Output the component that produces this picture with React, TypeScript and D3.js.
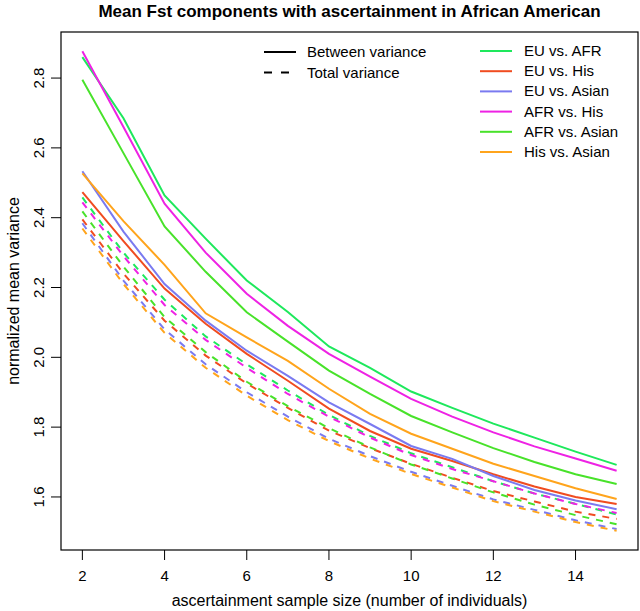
import React from "react";
import * as d3 from "d3";

const sampleSizes = [2, 3, 4, 5, 6, 7, 8, 9, 10, 11, 12, 13, 14, 15];

const seriesNames = ["EU vs. AFR", "EU vs. His", "EU vs. Asian", "AFR vs. His", "AFR vs. Asian", "His vs. Asian"];
const seriesColors = ["#1ee85c", "#f04c20", "#7a7af0", "#ee22e4", "#48e22a", "#ffa41c"];

// Between variance (solid)
const betweenEUAFR = [2.86, 2.685, 2.464, 2.34, 2.22, 2.13, 2.031, 1.97, 1.902, 1.855, 1.81, 1.77, 1.73, 1.692];
const betweenEUHis = [2.473, 2.333, 2.197, 2.096, 2.01, 1.933, 1.853, 1.789, 1.738, 1.703, 1.665, 1.63, 1.6, 1.58];
const betweenEUAsian = [2.533, 2.36, 2.21, 2.105, 2.019, 1.947, 1.871, 1.809, 1.746, 1.709, 1.66, 1.62, 1.59, 1.565];
const betweenAFRHis = [2.877, 2.66, 2.44, 2.3, 2.182, 2.09, 2.01, 1.945, 1.881, 1.83, 1.785, 1.745, 1.71, 1.675];
const betweenAFRAsian = [2.795, 2.585, 2.375, 2.245, 2.129, 2.045, 1.962, 1.895, 1.832, 1.785, 1.74, 1.7, 1.665, 1.637];
const betweenHisAsian = [2.527, 2.39, 2.265, 2.126, 2.057, 1.99, 1.91, 1.838, 1.781, 1.738, 1.695, 1.66, 1.625, 1.594];

// Total variance (dashed)
const totalEUAFR = [2.458, 2.3, 2.165, 2.06, 1.98, 1.905, 1.835, 1.775, 1.725, 1.685, 1.645, 1.61, 1.58, 1.55];
const totalEUHis = [2.395, 2.24, 2.105, 2.005, 1.925, 1.855, 1.79, 1.74, 1.695, 1.655, 1.617, 1.587, 1.558, 1.537];
const totalEUAsian = [2.384, 2.22, 2.08, 1.98, 1.9, 1.83, 1.767, 1.717, 1.672, 1.632, 1.593, 1.563, 1.533, 1.508];
const totalAFRHis = [2.444, 2.29, 2.15, 2.05, 1.97, 1.895, 1.83, 1.77, 1.72, 1.68, 1.645, 1.61, 1.58, 1.554];
const totalAFRAsian = [2.418, 2.26, 2.115, 2.015, 1.93, 1.86, 1.797, 1.742, 1.693, 1.653, 1.613, 1.578, 1.548, 1.522];
const totalHisAsian = [2.369, 2.21, 2.07, 1.97, 1.89, 1.82, 1.76, 1.71, 1.666, 1.627, 1.588, 1.558, 1.528, 1.503];

const betweenSeries = [betweenEUAFR, betweenEUHis, betweenEUAsian, betweenAFRHis, betweenAFRAsian, betweenHisAsian];
const totalSeries = [totalEUAFR, totalEUHis, totalEUAsian, totalAFRHis, totalAFRAsian, totalHisAsian];

const xTicks = [2, 4, 6, 8, 10, 12, 14];
const yTicks = [1.6, 1.8, 2.0, 2.2, 2.4, 2.6, 2.8];

const W = 640;
const H = 611;
const box = { left: 61, right: 638, top: 32, bottom: 550 };
const FONT = "'Liberation Sans', Arial, Helvetica, sans-serif";

export default function App() {
  const allVals = [...betweenSeries.flat(), ...totalSeries.flat()];
  const [ymin, ymax] = d3.extent(allVals) as [number, number];
  const ypad = (ymax - ymin) * 0.04;
  const xpad = (15 - 2) * 0.04;
  const x = d3.scaleLinear().domain([2 - xpad, 15 + xpad]).range([box.left, box.right]);
  const y = d3.scaleLinear().domain([ymin - ypad, ymax + ypad]).range([box.bottom, box.top]);

  const line = (vals: number[]) =>
    d3.line<number>().x((_, i) => x(sampleSizes[i])).y((d) => y(d))(vals) || "";

  const cx = (box.left + box.right) / 2;
  const cy = (box.top + box.bottom) / 2;

  return (
    <svg width={W} height={H} style={{ position: "absolute", left: 0, top: 0, background: "#fff" }} fontFamily={FONT}>
      <rect x={0} y={0} width={W} height={H} fill="#fff" />
      <text x={cx} y={17} textAnchor="middle" fontSize={17} fontWeight="bold">
        Mean Fst components with ascertainment in African American
      </text>

      {totalSeries.map((s, i) => (
        <path key={"t" + i} d={line(s)} fill="none" stroke={seriesColors[i]} strokeWidth={2} strokeDasharray="7,7" />
      ))}
      {betweenSeries.map((s, i) => (
        <path key={"b" + i} d={line(s)} fill="none" stroke={seriesColors[i]} strokeWidth={2} />
      ))}

      <rect x={box.left} y={box.top} width={box.right - box.left} height={box.bottom - box.top} fill="none" stroke="#000" strokeWidth={1.2} />

      {xTicks.map((t) => (
        <g key={"x" + t}>
          <line x1={x(t)} x2={x(t)} y1={box.bottom} y2={box.bottom + 10} stroke="#000" strokeWidth={1} />
          <text x={x(t)} y={581} textAnchor="middle" fontSize={15}>{t}</text>
        </g>
      ))}
      {yTicks.map((t) => (
        <g key={"y" + t}>
          <line x1={box.left - 10} x2={box.left} y1={y(t)} y2={y(t)} stroke="#000" strokeWidth={1} />
          <text transform={`translate(44,${y(t)}) rotate(-90)`} textAnchor="middle" fontSize={15}>{t.toFixed(1)}</text>
        </g>
      ))}

      <text x={cx} y={606} textAnchor="middle" fontSize={16}>ascertainment sample size (number of individuals)</text>
      <text transform={`translate(19,${cy}) rotate(-90)`} textAnchor="middle" fontSize={16}>normalized mean variance</text>

      {/* variance type legend */}
      <line x1={264} x2={296} y1={52} y2={52} stroke="#000" strokeWidth={2} />
      <text x={307} y={57} fontSize={15}>Between variance</text>
      <line x1={264} x2={296} y1={72.5} y2={72.5} stroke="#000" strokeWidth={2} strokeDasharray="8,9" />
      <text x={307} y={77.5} fontSize={15}>Total variance</text>

      {/* series legend */}
      {seriesNames.map((n, i) => (
        <g key={"l" + i}>
          <line x1={480} x2={512} y1={51 + i * 20.2} y2={51 + i * 20.2} stroke={seriesColors[i]} strokeWidth={2} />
          <text x={524} y={56 + i * 20.2} fontSize={15}>{n}</text>
        </g>
      ))}
    </svg>
  );
}
